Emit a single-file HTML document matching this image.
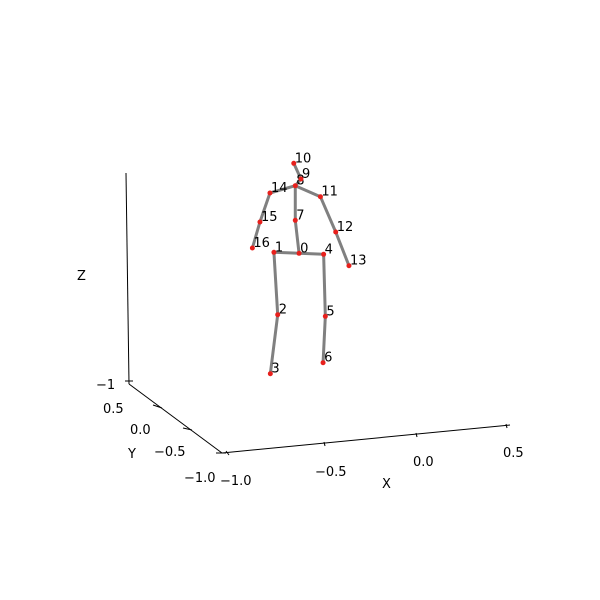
<!DOCTYPE html>
<html><head><meta charset="utf-8"><style>
html,body{margin:0;padding:0;background:#fff;}
svg{display:block;font-family:"DejaVu Sans","Liberation Sans",sans-serif;}
</style></head><body>
<svg id="chart" width="600" height="600" viewBox="0 0 600 600">
<rect width="600" height="600" fill="#fff"/>
<g stroke="#000" stroke-width="1" fill="none">
<line x1="126" y1="173" x2="129" y2="384"/>
<line x1="125" y1="381" x2="133" y2="381"/>
<line x1="129" y1="384" x2="222" y2="453"/>
<line x1="153" y1="405" x2="162" y2="408"/>
<line x1="183" y1="428" x2="192" y2="430"/>
<line x1="216" y1="453" x2="226" y2="453"/>
<line x1="222" y1="453" x2="510" y2="425"/>
<line x1="226" y1="451" x2="229" y2="455"/>
<line x1="324" y1="442" x2="325" y2="446"/>
<line x1="416" y1="433" x2="417" y2="437"/>
<line x1="506" y1="424" x2="507" y2="428"/>
</g>
<g font-size="13" fill="#000">
<text x="77" y="280">Z</text>
<text x="96" y="389">−1</text>
<text x="103" y="413">0.5</text>
<text x="130" y="434">0.0</text>
<text x="154" y="456">−0.5</text>
<text x="184" y="482">−1.0</text>
<text x="128" y="458">Y</text>
<text x="220" y="485">−1.0</text>
<text x="315" y="476">−0.5</text>
<text x="413" y="466">0.0</text>
<text x="503" y="457">0.5</text>
<text x="382" y="488">X</text>
</g>
<g id="bones"></g>
<g id="joints"></g>
</svg>
<script>
const jointX = [-0.624,-0.757,-0.737,-0.776,-0.494,-0.485,-0.497,-0.644,-0.644,-0.614,-0.652,-0.511,-0.430,-0.360,-0.778,-0.831,-0.871];
const jointZ = [1.467,1.477,0.853,0.263,1.457,0.837,0.373,1.797,2.143,2.21,2.367,2.033,1.68,1.343,2.07,1.78,1.52];
const boneStart = [0,1,2,0,4,5,0,7,8,9,8,11,12,8,14,15];
const boneEnd   = [1,2,3,4,5,6,7,8,9,10,11,12,13,14,15,16];
const jointLabels = ["0","1","2","3","4","5","6","7","8","9","10","11","12","13","14","15","16"];

function xScale(v){ return 417 + v*189; }
function zScale(v){ return 400 - v*100; }
const NS = "http://www.w3.org/2000/svg";
const bones = document.getElementById('bones');
const joints = document.getElementById('joints');
for (let i=0;i<boneStart.length;i++){
  const a=boneStart[i], b=boneEnd[i];
  const l=document.createElementNS(NS,'line');
  
  
  l.setAttribute('x1',xScale(jointX[a])); l.setAttribute('y1',zScale(jointZ[a]));
  l.setAttribute('x2',xScale(jointX[b])); l.setAttribute('y2',zScale(jointZ[b]));
  l.setAttribute('stroke','#808080'); l.setAttribute('stroke-width','3');
  l.setAttribute('stroke-linecap','round');
  bones.appendChild(l);
}
for (let i=0;i<jointX.length;i++){
  const cx=xScale(jointX[i]), cy=zScale(jointZ[i]);
  const c=document.createElementNS(NS,'circle');
  
  
  c.setAttribute('cx',cx); c.setAttribute('cy',cy); c.setAttribute('r','2.5');
  c.setAttribute('fill','#e8201c');
  joints.appendChild(c);
  const t=document.createElementNS(NS,'text');
  
  
  t.setAttribute('x',cx+1); t.setAttribute('y',cy-1);
  t.setAttribute('font-size','13'); t.setAttribute('fill','#000');
  t.textContent=jointLabels[i];
  joints.appendChild(t);
}
</script>
</body></html>
